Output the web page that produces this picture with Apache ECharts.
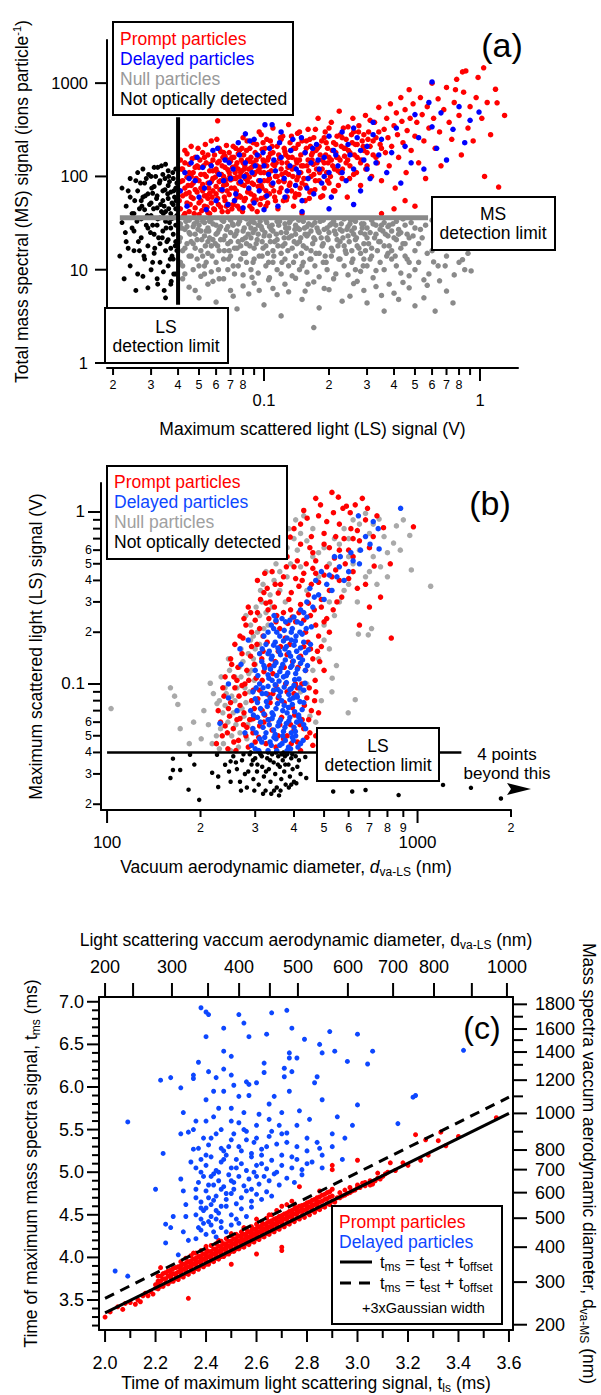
<!DOCTYPE html>
<html><head><meta charset="utf-8">
<script src="https://cdn.jsdelivr.net/npm/echarts@6.0.0/dist/echarts.min.js"></script>
<style>html,body{margin:0;padding:0;background:#fff}#chart{width:601px;height:1395px}</style>
</head><body><div id="chart"></div>
<script>
const FONT = "'Liberation Sans', Arial, Helvetica, sans-serif";
const RED = '#ff0000', BLUE_A = '#0000ff', BLUE_B = '#0d47ff', GRAY_A = '#8a8a8a', GRAY_B = '#a9a9a9', BLK = '#000000';

// ---------------- Panel (a): MS signal vs LS signal ----------------
const aUndetected = [[.0215,14],[.022,32],[.022,75],[.023,20],[.023,48],[.024,11],[.024,95],[.024,60],[.025,26],[.025,40],[.025,16],[.026,70],[.026,9],[.026,110],[.027,35],[.027,22],[.027,55],[.028,13],[.028,85],[.028,44],[.029,28],[.029,6.4],[.029,65],[.029,18],[.03,100],[.03,38],[.03,10],[.03,52],[.031,24],[.031,78],[.031,15],[.031,125],[.032,46],[.032,30],[.032,8],[.032,62],[.033,19],[.033,90],[.033,36],[.033,12],[.034,55],[.034,26],[.034,105],[.034,70],[.035,5],[.035,42],[.035,16],[.035,135],[.035,33],[.036,80],[.036,21],[.036,58],[.036,11],[.036,115],[.037,40],[.037,28],[.037,7],[.037,68],[.037,17],[.038,95],[.038,50],[.038,24],[.038,13],[.038,36],[.039,75],[.039,20],[.039,45],[.039,9],[.039,120],[.039,30],[.0385,60],[.0375,14],[.0365,88],[.0345,48],[.0325,22],[.0305,66],[.0285,30],[.0265,45],[.0245,28],[.0235,17],[.0225,8],[.0365,32],[.0375,52],[.0395,16],[.0395,85],[.0345,6],[.0335,130],[.0315,100],[.0275,120],[.0255,90],
[.0252,55],[.0258,33],[.0262,20],[.0268,85],[.0272,48],[.0278,14],[.0282,62],[.0288,38],[.0292,105],[.0298,25],[.0302,75],[.0308,45],[.0312,17],[.0318,58],[.0322,35],[.0328,85],[.0332,50],[.0338,22],[.0342,40],[.0348,95],[.0352,28],[.0358,65],[.0362,45],[.0368,13],[.0372,35],[.0378,110],[.0382,70],[.0388,18],[.0392,55],[.0394,38],[.0362,100],[.0355,20],[.0348,72],[.0335,42],[.0322,125],[.0305,30],[.0295,50],[.0285,95],[.0275,60],[.0265,16],[.0245,40],[.0235,70],[.0228,25],[.0382,9],[.0372,7.5],[.0342,9.5],[.0322,7],[.0305,12],[.0275,8.5],[.0255,6]];
const aNull = [[.041,12],[.041,22],[.041,31],[.043,9],[.043,17],[.043,27],[.045,14],[.045,25],[.045,34],[.047,10],[.047,19],[.047,29],[.049,13],[.049,21],[.049,33],[.051,8.5],[.051,16],[.051,26],[.053,11],[.053,23],[.053,32],[.055,15],[.055,20],[.055,28],[.057,9.5],[.057,18],[.057,35],[.06,12],[.06,24],[.06,30],[.062,8],[.062,16],[.062,27],[.065,13],[.065,21],[.065,33],[.068,10],[.068,19],[.068,29],[.07,14],[.07,25],[.07,34],[.073,9],[.073,17],[.073,23],[.076,11],[.076,20],[.076,31],[.08,15],[.08,26],[.08,8.8],[.083,12],[.083,19],[.083,35],[.087,10],[.087,22],[.087,28],[.09,13],[.09,17],[.09,32],[.094,9.2],[.094,24],[.094,30],[.098,14],[.098,20],[.098,27],[.102,11],[.102,18],[.102,34],[.106,8.2],[.106,23],[.106,29],[.11,12],[.11,16],[.11,26],[.115,10],[.115,21],[.115,33],[.12,15],[.12,25],[.12,9],[.125,13],[.125,19],[.125,31],[.13,11],[.13,22],[.13,28],[.135,8.6],[.135,17],[.135,35],[.14,14],[.14,24],[.14,30],[.146,10],[.146,20],[.146,27],[.152,12],[.152,18],[.152,33],[.158,9.4],[.158,23],[.158,29],[.165,13],[.165,16],[.165,26],[.172,11],[.172,21],[.172,32],[.18,15],[.18,25],[.18,8.4],[.188,12],[.188,19],[.188,34],[.196,10],[.196,22],[.196,28],[.205,14],[.205,17],[.205,31],[.215,9],[.215,24],[.215,30],[.225,13],[.225,20],[.225,27],[.235,11],[.235,18],[.235,35],[.245,8.8],[.245,23],[.245,29],[.255,12],[.255,16],[.255,26],[.265,10],[.265,21],[.265,33],[.28,15],[.28,25],[.28,9.6],[.29,13],[.29,19],[.29,31],[.3,11],[.3,22],[.3,28],[.315,14],[.315,17],[.315,34],[.33,9.8],[.33,24],[.33,30],[.345,12],[.345,20],[.345,27],[.36,10],[.36,18],[.36,32],[.375,15],[.375,23],[.375,29],[.39,13],[.39,16],[.39,26],[.41,11],[.41,21],[.41,33],[.43,9.2],[.43,25],[.43,17],[.45,14],[.45,19],[.45,30],[.47,12],[.47,22],[.47,8.6],[.5,10],[.5,28],[.5,16],
[.042,16],[.044,29],[.046,20],[.048,24],[.05,30],[.052,14],[.054,26],[.056,33],[.058,21],[.061,18],[.063,29],[.066,23],[.069,16],[.072,30],[.075,26],[.078,18],[.082,22],[.085,31],[.089,25],[.092,19],[.096,33],[.1,23],[.104,15],[.108,27],[.112,20],[.117,30],[.122,18],[.127,25],[.132,33],[.138,20],[.143,28],[.149,15],[.155,24],[.161,31],[.168,19],[.176,28],[.184,22],[.192,14],[.2,25],[.21,33],[.22,18],[.23,26],[.24,15],[.25,31],[.26,24],[.27,18],[.285,28],[.295,16],[.31,25],[.32,31],[.34,20],[.355,26],[.37,14],[.38,30],[.4,22],[.42,27],[.44,35],[.46,24],[.48,32],[.52,19],
[.0405,20],[.0415,28],[.042,11],[.0435,33],[.044,19],[.0455,24],[.046,14],[.0475,31],[.048,17],[.0495,27],[.05,11],[.0515,21],[.052,33],[.0535,18],[.054,12],[.0555,26],[.056,22],[.0575,14],[.058,31],[.0595,19],[.061,25],[.0615,10],[.063,21],[.064,34],[.0655,16],[.067,27],[.0685,13],[.07,20],[.0715,31],[.072,11],[.074,24],[.075,17],[.077,33],[.078,13],[.0795,21],[.081,28],[.082,15],[.0845,24],[.086,18],[.0875,33],[.089,12],[.091,27],[.093,21],[.095,14],[.097,29],[.099,17],[.101,25],[.103,32],[.105,12],[.107,20],[.109,30],[.111,14],[.114,24],[.116,18],[.118,33],[.121,12],[.124,22],[.126,28],[.129,16],[.131,32],[.134,23],[.137,12],[.139,27],[.142,19],[.145,34],[.148,22],[.15,11],[.154,28],[.157,17],[.16,24],[.163,13],[.167,30],[.17,22],[.174,15],[.178,26],[.182,33],[.186,18],[.19,27],[.194,12],[.198,21],[.202,30],[.208,16],[.212,26],[.218,21],[.222,13],[.228,31],[.232,22],[.238,16],[.242,27],[.248,20],[.252,34],[.258,13],[.262,28],[.268,22],[.275,17],[.283,31],[.288,11],[.293,24],[.305,19],[.31,13],[.325,22],[.335,16],[.35,30],[.365,24],[.38,18],[.395,31],[.405,14],[.42,24],[.44,19],[.46,13],[.49,23],[.53,27],[.57,15],[.63,21],[.69,11],[.74,19],[.79,23],[.86,18],
[.042,8],[.048,6],[.053,9],[.058,7.5],[.065,8],[.072,5.2],[.08,6.7],[.088,8.3],[.095,6],[.105,7.8],[.115,5.4],[.125,7],[.14,8.1],[.155,5.9],[.17,7.4],[.19,6.3],[.21,8],[.23,4.6],[.26,7.1],[.29,6],[.32,8.2],[.35,5.3],[.38,7],[.42,4.8],[.47,6.4],[.55,5],[.65,7.6],[.75,4.4],
[.045,6.5],[.05,5],[.055,7],[.06,4.5],[.07,6],[.075,3.8],[.085,5.5],[.09,7.2],[.1,4.2],[.11,6.3],[.12,3.2],[.13,5.8],[.15,4.8],[.16,7],[.18,3.9],[.2,6.1],[.17,2.4],[.25,5.2],[.27,7.5],[.3,4.4],[.33,6.6],[.36,3.6],[.4,5.6],[.44,7.3],[.5,4.1],[.57,6.8],[.62,3.6],[.7,5.9],
[.52,12],[.54,22],[.56,30],[.58,9],[.6,16],[.61,12.1],[.62,26],[.64,11],[.66,19],[.68,33],[.7,14],[.72,24],[.76,8.8],[.76,17],[.78,28],[.8,12],[.83,12.8],[.85,10],[.88,15],[.91,9.7],[.55,7.8],[.6,34],[.65,28]];
const aPrompt = [[.041,45],[.041,88],[.041,150],[.042,62],[.042,120],[.043,40],[.043,75],[.043,190],[.044,52],[.044,98],[.045,67],[.045,135],[.045,42],[.046,80],[.046,210],[.047,58],[.047,110],[.048,46],[.048,72],[.048,160],[.05,39],[.05,90],[.05,125],[.051,55],[.052,70],[.052,180],[.053,48],[.053,105],[.054,62],[.054,140],[.055,85],[.055,41],[.056,115],[.056,66],[.057,52],[.057,240],[.058,95],[.058,150],[.059,44],[.06,78],[.06,120],[.061,58],[.061,395],[.062,200],[.062,88],[.063,47],[.064,130],[.064,70],[.065,100],[.066,55],[.066,165],[.067,82],[.068,42],[.068,118],[.069,64],[.07,145],[.07,92],
[.072,50],[.072,210],[.073,75],[.074,130],[.075,60],[.075,98],[.076,175],[.077,45],[.078,110],[.079,82],[.08,260],[.08,140],[.081,55],[.082,95],[.083,190],[.084,68],[.085,120],[.086,48],[.087,160],[.088,85],[.089,230],[.09,62],[.09,105],[.092,150],[.093,42],[.094,78],[.095,300],[.096,125],[.097,58],[.098,195],[.1,90],[.1,140],[.102,70],[.103,250],[.104,52],[.105,110],[.107,175],[.108,82],[.11,135],[.11,330],[.112,60],[.113,100],[.115,210],[.116,45],[.118,155],[.12,75],[.12,120],[.122,270],[.124,88],[.125,185],[.127,56],[.128,140],[.13,105],[.13,360],[.132,230],[.134,70],[.135,160],[.137,48],[.138,125],[.14,200],[.142,92],[.143,290],[.145,64],[.146,150],[.148,110],[.15,40],[.15,240],
[.155,180],[.156,80],[.158,130],[.16,320],[.162,58],[.164,210],[.165,100],[.167,150],[.17,260],[.172,72],[.174,190],[.175,120],[.178,420],[.18,90],[.182,170],[.185,240],[.187,62],[.19,140],[.192,300],[.195,110],[.197,200],[.2,85],[.2,160],[.205,380],[.208,130],[.21,230],[.213,70],[.215,180],[.218,270],[.22,115],[.223,500],[.225,150],[.228,210],[.23,95],[.233,330],[.236,165],[.24,250],[.243,60],[.246,190],[.25,130],[.254,280],[.258,420],[.26,105],[.265,220],[.27,160],[.275,350],[.28,80],[.285,240],[.29,190],[.295,450],[.3,130],[.305,300],[.31,210],[.315,100],[.32,170],[.325,380],[.33,260],[.335,140],[.34,550],[.345,220],[.35,90],
[.046,100],[.049,130],[.051,75],[.053,160],[.055,58],[.058,70],[.061,140],[.063,90],[.065,180],[.067,48],[.069,110],[.071,160],[.074,95],[.077,62],[.079,200],[.081,120],[.084,88],[.086,145],[.089,55],[.091,180],[.094,115],[.097,80],[.099,230],[.101,60],[.104,150],[.106,95],[.109,210],[.111,70],[.114,140],[.117,88],[.119,260],[.121,105],[.123,55],[.126,170],[.129,125],[.131,80],[.133,190],[.136,100],[.139,60],[.141,150],[.144,220],[.147,75],[.149,130],[.153,95],[.157,240],[.161,115],[.163,68],[.166,170],[.169,135],[.173,90],[.177,200],[.181,110],[.186,150],[.19,75],[.194,230],[.198,140],[.203,100],[.207,190],[.212,120],[.217,160],[.221,80],[.226,280],[.231,120],[.238,200],[.244,150],[.249,95],[.256,230],[.262,170],[.268,110],[.274,300],[.282,150],[.288,210],[.296,120],[.303,250],
[.0405,55],[.0415,120],[.042,90],[.0425,38],[.043,140],[.0435,65],[.044,175],[.0445,80],[.045,110],[.0455,50],[.046,60],[.0465,155],[.047,85],[.0475,40],[.048,125],[.0485,95],[.049,68],[.0495,200],[.05,52],[.0505,150],[.051,105],[.0515,43],[.052,82],[.0525,130],[.053,62],[.0535,220],[.054,100],[.0545,47],[.055,170],[.0555,75],[.056,40],[.0565,135],[.057,88],[.0575,60],[.058,115],[.0585,45],[.059,170],[.0595,98],[.06,65],[.0605,250],[.061,110],[.0615,50],[.062,145],[.0625,72],[.063,185],[.0635,105],[.064,42],[.0645,160],[.065,80],[.0655,60],[.066,125],[.0665,92],[.067,215],[.0675,70],[.068,150],[.0685,50],[.069,180],[.0695,100],[.0705,75],[.071,45],[.0715,125],[.072,95],[.0725,160],[.073,55],[.0735,110],[.074,200],[.0745,70],[.075,140],[.0755,48],[.076,120],[.0765,85],[.077,190],[.0775,100],[.078,60],[.0785,150],[.079,115],[.0795,42],[.0805,170],[.081,80],[.0815,130],[.082,58],[.083,105],[.0835,240],[.084,150],[.085,72],[.0855,98],[.086,200],[.087,65],[.0875,125],[.088,45],[.089,140],[.0895,82],[.091,110],[.092,56],[.0925,220],[.093,130],[.0945,90],[.095,165],[.096,50],[.0965,110],[.097,280],[.098,75],[.099,150],[.1,110],[.101,200],[.102,48],[.103,130],[.104,90],[.105,160],[.106,65],[.107,240],[.108,115],[.109,80],[.11,180],[.112,130],[.113,55],[.115,100],[.117,170],[.118,68],[.12,250],[.121,140],[.123,90],[.124,200],[.126,110],[.128,60],[.13,160],[.132,85],[.134,270],[.135,120],[.137,200],[.14,65],[.142,140],[.144,100],[.146,300],[.148,170],[.15,85],[.152,130],[.155,55],[.157,200],[.16,150],[.163,250],[.165,70],[.168,180],[.17,105],[.173,320],[.176,140],[.18,210],[.183,60],[.186,120],[.19,260],[.193,170],[.197,90],[.2,330],[.205,150],[.21,70],[.215,220],[.22,160],[.225,110],[.23,260],[.235,200],[.24,140],[.245,340],[.25,180],[.26,300],[.27,220],[.28,140],[.29,280],[.3,180],[.31,400],[.32,240],[.33,160],[.34,300],[.35,200],
[.36,320],[.365,180],[.37,420],[.375,260],[.38,130],[.385,600],[.39,210],[.4,350],[.405,75],[.41,480],[.415,280],[.42,160],[.43,700],[.435,390],[.44,230],[.45,520],[.455,110],[.46,310],[.47,850],[.475,420],[.48,190],[.49,600],[.5,270],[.51,380],[.52,140],[.53,700],[.54,460],[.55,240],[.56,95],[.57,560],[.58,330],[.6,1000],[.61,420],[.62,200],[.64,680],[.65,300],[.66,130],[.68,520],[.7,900],[.72,380],[.74,250],[.76,620],[.77,850],[.78,1100],[.8,450],[.82,170],[.83,1320],[.84,800],[.86,1350],[.88,330],[.9,560],[.93,240],[.96,700],[.98,1150],[1.04,1460],[1.02,420],[1.05,100],[1.08,620],[1.12,280],[1.18,860],[1.2,615],[1.22,77],[1.3,450],[.4,45],[.45,55],[.5,48],[.35,40]];
const aDelayed = [[.041,70],[.043,110],[.044,48],[.046,140],[.048,90],[.05,60],[.052,125],[.054,44],[.056,85],[.058,190],[.06,55],[.062,105],[.064,72],[.066,150],[.068,50],[.07,95],[.072,120],[.074,65],[.076,230],[.078,88],[.08,46],[.082,140],[.082,286],[.085,75],[.088,110],[.09,52],[.093,170],[.096,90],[.1,130],[.101,358],[.103,62],[.106,200],[.109,358],[.11,85],[.113,115],[.116,48],[.12,160],[.124,95],[.128,70],[.132,130],[.136,250],[.14,80],[.145,110],[.15,55],[.155,180],[.16,95],[.165,140],[.17,65],[.175,220],[.18,120],[.185,85],[.19,160],[.2,110],[.205,60],[.21,190],[.22,130],[.23,300],[.24,90],[.25,170],[.26,120],[.27,260],[.28,70],[.29,150],[.3,210],[.31,95],[.32,380],[.33,140],[.35,250],[.37,110],[.39,180],[.41,330],[.43,85],[.45,210],[.48,140],[.5,460],[.52,260],[.55,120],[.58,620],[.6,1030],[.6,340],[.63,200],[.66,480],[.7,150],[.75,320],[.8,560],[.85,230],[.9,400],[.99,490],
[.045,95],[.049,160],[.053,75],[.057,130],[.061,200],[.065,90],[.069,140],[.073,55],[.077,170],[.081,100],[.086,240],[.091,130],[.095,70],[.099,180],[.105,105],[.111,150],[.118,230],[.125,60],[.133,190],[.141,120],[.149,260],[.158,75],[.168,200],[.178,150],[.19,100],[.2,270],[.215,170],[.23,110],[.245,220],[.26,330],[.28,190],[.3,120],[.32,280],[.34,170],[.2,45],[.15,42],[.1,44],[.26,50],[.12,300],[.09,250]];
const aMsLimit = [[0.0215,36],[0.575,36]];
const aLsLimit = [[0.04,4.2],[0.04,430]];
const aXMajor = [0.1, 1], aXMajorLab = ['0.1', '1'];
const aXMinor = [0.02,0.03,0.04,0.05,0.06,0.07,0.08,0.09,0.2,0.3,0.4,0.5,0.6,0.7,0.8,0.9];
const aXMinorLab = ['2','3','4','5','6','7','8','','2','3','4','5','6','7','8',''];
const aYMajor = [1, 10, 100, 1000], aYMajorLab = ['1','10','100','1000'];
const aX = [0.01875, 1.5], aY = [1, 2900];

// ---------------- Panel (b): LS signal vs diameter ----------------
const bUndetected = [[160,.0284],[163,.0368],[163,.0316],[172,.0316],[183,.0243],[191,.034],[198,.0212],[185,.0388],[218,.0305],[228,.029],[228,.0252],[226,.0388],[240,.0339],[247,.031],[250,.0355],[358,.0225],[407,.0265],[435,.0376],[438,.0284],[535,.0237],[616,.0237],[680,.0242],[869,.0226],[1208,.0259],[1486,.0249],[1856,.0216],
[255,.038],[262,.032],[268,.027],[272,.036],[278,.03],[282,.025],[288,.039],[292,.034],[296,.028],[300,.037],[304,.031],[308,.026],[312,.039],[316,.033],[320,.029],[324,.024],[328,.037],[332,.032],[336,.027],[340,.039],[344,.035],[348,.03],[352,.025],[356,.038],[360,.033],[364,.028],[368,.036],[372,.031],[376,.026],[380,.039],[384,.034],[388,.029],[392,.037],[396,.032],[400,.027],[405,.038],[410,.033],[415,.036],[420,.03],[260,.035],[275,.039],[285,.031],[295,.036],[305,.034],[315,.038],[325,.031],[335,.036],[345,.024],[355,.034],[365,.039],[375,.034],[385,.025],[395,.039],[270,.024],[298,.024],[318,.023],[338,.023],[362,.024],[374,.038],[392,.026],[250,.027],[330,.04],[350,.04],[310,.04],[290,.04],[370,.04]];
const bNull = [[103,.072],[160,.095],[169,.076],[172,.055],[184,.045],[201,.048],[215,.101],[226,.077],[165,.085],[190,.06],
[237,.045],[245,.06],[252,.05],[258,.08],[265,.043],[270,.11],[276,.065],[282,.048],[288,.09],[294,.055],[240,.075],[248,.12],[255,.068],[262,.095],[268,.052],[274,.135],[280,.078],[286,.115],[292,.062],[298,.105],[232,.055],[242,.088],[250,.041],[260,.058],[266,.125],[272,.072],[284,.058],[296,.14],[230,.08],[236,.068],
[300,.16],[305,.2],[310,.25],[315,.3],[320,.21],[300,.13],[290,.18],[310,.17],[325,.26],[335,.33],[345,.4],[330,.22],[318,.38],[350,.5],[340,.28],[360,.45],[370,.55],[380,.62],[390,.5],[400,.7],[410,.6],[420,.75],[440,.68],[460,.8],[480,.58],
[752,.91],[855,.83],[944,.73],[837,.66],[800,.58],[955,.46],[1102,.37],[645,.195],[694,.193],[711,.21],[598,.068],[630,.081],[531,.108],[548,.128],[700,.75],[650,.85],[600,.7],[560,.65],[620,.5],[680,.42],[720,.55],[760,.48],[640,.3],[580,.35],[540,.25],[500,.18],[480,.14],[520,.16],[460,.12],[440,.1],[420,.09],[500,.22],[560,.3],[470,.06],[450,.065],[490,.08],[530,.09],
[205,.07],[212,.058],[220,.088],[225,.05],[233,.11],[240,.095],[246,.14],[252,.085],[258,.11],[264,.07],[270,.16],[278,.095],[285,.15],[292,.12],[296,.19],[280,.25],[290,.22],[302,.28],[312,.35],[325,.45],[338,.55],[350,.62],[365,.7],[385,.8],[405,.9],[430,.95],[360,.35],[375,.3],[380,.42],[420,.48],[460,.55],[500,.62],[540,.7],[580,.8],[620,.9],[680,.98],[720,.85],[780,.72],[650,.6],[600,.55],[520,.5],[480,.42],[440,.35],[520,.3],[600,.38],[700,.45],[740,.38],[800,.42],[880,.6],[900,.9],[230,.042],[218,.045]];
const bPrompt = [[225,.045],[235,.05],[245,.042],[255,.055],[265,.047],[275,.058],[285,.043],[295,.052],[310,.057],[325,.045],[340,.054],[360,.058],[380,.05],[400,.054],[420,.041],[440,.049],[460,.044],[240,.057],[260,.041],[280,.05],[300,.046],[320,.06],[350,.043],[370,.048],[390,.058],[410,.046],[430,.055],[450,.052],
[228,.07],[238,.085],[248,.065],[258,.095],[268,.075],[278,.088],[288,.062],[298,.072],[310,.092],[322,.066],[335,.078],[350,.098],[365,.064],[380,.09],[395,.073],[410,.095],[425,.062],[440,.083],[455,.07],[470,.09],[250,.078],[262,.062],[272,.098],[292,.08],[316,.07],[342,.088],[372,.078],[402,.066],[432,.075],[480,.068],
[240,.11],[252,.13],[262,.105],[272,.15],[282,.12],[292,.165],[302,.108],[315,.14],[328,.175],[342,.115],[356,.155],[372,.125],[388,.17],[404,.1],[420,.145],[436,.12],[452,.16],[468,.105],[484,.135],[500,.12],[258,.17],[278,.1],[298,.13],[320,.118],[348,.135],[380,.148],[412,.125],[444,.175],[476,.155],
[268,.19],[280,.22],[292,.2],[305,.26],[318,.19],[332,.24],[346,.28],[360,.21],[375,.185],[390,.27],[405,.23],[420,.29],[436,.2],[452,.25],[470,.22],[490,.28],[510,.24],[535,.27],[285,.28],[300,.235],[325,.295],[352,.25],[382,.225],[415,.26],[445,.295],[480,.19],[520,.2],
[305,.4],[320,.34],[328,.36],[340,.45],[356,.338],[370,.42],[385,.31],[400,.48],[415,.37],[430,.44],[445,.33],[460,.47],[480,.39],[500,.43],[520,.35],[545,.46],[570,.32],[600,.41],[640,.36],[312,.31],[335,.3],[362,.38],[392,.34],[425,.4],[455,.38],[490,.31],[530,.42],[585,.5],[725,.485],[817,.5],
[389,.715],[360,.6],[380,.55],[400,.8],[420,.65],[441,.92],[460,.58],[487,1.1],[500,.75],[520,.62],[536,.99],[556,1.22],[560,.85],[580,.7],[607,.99],[620,.55],[640,.78],[664,1.2],[680,.9],[700,.62],[777,.81],[970,.82],[430,1.02],[455,.72],[470,1.2],[510,.88],[530,1.3],[590,1.08],[650,.68],[720,.72],[410,.52],[470,.52],[540,.54],[600,.6],
[823,.185],[700,.28],[650,.22],[760,.32],
[232,.06],[244,.052],[256,.046],[268,.063],[282,.056],[296,.063],[308,.049],[332,.062],[356,.05],[392,.045],[418,.058],[446,.062],[470,.05],
[236,.095],[246,.072],[256,.11],[266,.085],[276,.068],[286,.105],[296,.092],[306,.082],[316,.105],[330,.087],[356,.083],[376,.1],[400,.088],[424,.1],[448,.095],[466,.08],
[250,.14],[264,.125],[274,.185],[290,.145],[304,.17],[318,.155],[334,.128],[362,.165],[396,.135],[430,.165],[460,.14],[490,.165],
[276,.24],[290,.26],[310,.21],[330,.27],[350,.23],[370,.26],[395,.245],[430,.235],[465,.27],[500,.23],[550,.3],
[322,.44],[348,.38],[378,.48],[405,.41],[438,.5],[470,.44],[510,.48],[560,.4],[620,.45],[680,.38],
[420,.85],[450,.62],[480,.95],[500,.65],[545,.72],[575,1.05],[610,.8],[630,1.1],[690,1.05],[740,.95],[620,.7],[560,.6]];
const bDelayed = [[300,.042],[315,.046],[330,.041],[345,.049],[360,.044],[375,.047],[390,.042],[405,.05],[420,.045],[310,.048],[338,.044],[352,.041],[368,.05],[384,.043],[398,.047],
[295,.055],[312,.06],[325,.052],[340,.063],[355,.057],[370,.053],[385,.061],[400,.056],[415,.064],[430,.058],[305,.064],[333,.058],[348,.051],[362,.062],[378,.059],[392,.052],[408,.06],
[290,.07],[305,.078],[320,.067],[335,.083],[350,.072],[365,.08],[380,.068],[395,.076],[410,.084],[425,.071],[300,.082],[328,.074],[343,.066],[358,.085],[372,.075],[388,.081],[402,.069],[418,.079],
[295,.09],[310,.1],[325,.088],[340,.105],[355,.093],[370,.11],[385,.087],[400,.098],[415,.107],[430,.092],[318,.095],[332,.108],[348,.099],[362,.09],[378,.102],[392,.094],[408,.086],
[300,.12],[315,.135],[330,.113],[345,.128],[360,.118],[375,.138],[390,.125],[405,.115],[420,.132],[435,.12],[322,.124],[338,.14],[352,.112],[368,.13],[382,.116],[398,.136],
[310,.15],[325,.17],[340,.145],[355,.162],[370,.178],[385,.152],[400,.168],[415,.143],[430,.175],[445,.158],[333,.155],[348,.175],[362,.148],[378,.165],[392,.18],[408,.155],
[320,.19],[338,.22],[352,.2],[366,.24],[380,.185],[395,.21],[410,.23],[425,.195],[440,.245],[455,.215],[345,.25],[372,.205],[388,.235],[418,.2],
[420,.27],[440,.3],[460,.28],[480,.33],[500,.31],[450,.36],[470,.4],[510,.38],[530,.35],[550,.42],[490,.45],[560,.48],[580,.4],[600,.45],[620,.52],[540,.55],[650,.5],[430,.26],[465,.32],[520,.43],
[564,.55],[655,.6],[752,.61],[882,1.05],[645,.95],[747,.8],[703,.65],[610,.58],[680,.72],[720,.88],
[246,.1],[246,.083],[231,.059],[262,.07],[270,.13],[278,.052],[285,.18],[268,.16],
[292,.044],[308,.041],[322,.049],[335,.046],[350,.048],[366,.045],[380,.041],[395,.049],[412,.043],[428,.047],
[302,.052],[318,.056],[330,.062],[344,.054],[358,.06],[374,.056],[388,.064],[404,.053],[420,.061],[436,.055],
[296,.066],[312,.072],[326,.079],[340,.068],[354,.077],[368,.07],[384,.073],[398,.083],[414,.066],[430,.078],
[302,.095],[316,.088],[330,.097],[344,.092],[358,.104],[372,.096],[388,.093],[402,.106],[418,.095],[434,.101],
[306,.112],[320,.128],[336,.122],[350,.133],[364,.124],[378,.112],[394,.128],[410,.122],[426,.138],[442,.128],
[316,.16],[330,.15],[344,.168],[358,.155],[374,.16],[390,.145],[404,.178],[420,.162],[436,.152],[452,.17],
[330,.2],[344,.21],[360,.19],[376,.23],[392,.2],[406,.19],[422,.225],[438,.21],[350,.235],[400,.245]];
const bLsLimit = [[100,0.04],[1384,0.04]];
const bXMajor = [100, 1000], bXMajorLab = ['100','1000'];
const bXMinor = [200,300,400,500,600,700,800,900,2000], bXMinorLab = ['2','3','4','5','6','7','8','9','2'];
const bYMajor = [0.1, 1], bYMajorLab = ['0.1','1'];
const bYMinor = [0.02,0.03,0.04,0.05,0.06,0.07,0.08,0.09,0.2,0.3,0.4,0.5,0.6,0.7,0.8,0.9];
const bYMinorLab = ['2','3','4','5','6','','','','2','3','4','5','6','','',''];
const bX = [95.6, 2000], bY = [0.01851, 1.474];

// ---------------- Panel (c): t_ms vs t_ls ----------------
const cPrompt = [[2.0,3.30],[2.02,3.36],[2.05,3.42],[2.07,3.39],[2.08,3.46],[2.1,3.47],[2.12,3.45],[2.13,3.5],[2.14,3.48],[2.15,3.55],[2.16,3.58],[2.17,3.55],[2.18,3.6],[2.19,3.57],[2.2,3.64],[2.2,3.68],[2.21,3.7],[2.22,3.88],
[2.22,3.66],[2.22,3.72],[2.22,3.78],[2.24,3.70],[2.24,3.75],[2.24,3.82],[2.26,3.72],[2.26,3.77],[2.26,3.85],[2.26,3.8],[2.28,3.75],[2.28,3.81],[2.28,3.88],[2.28,3.79],
[2.3,3.78],[2.3,3.83],[2.3,3.9],[2.3,3.86],[2.3,3.95],[2.32,3.81],[2.32,3.85],[2.32,3.93],[2.32,3.88],[2.32,3.99],[2.33,3.52],[2.34,3.84],[2.34,3.89],[2.34,3.96],[2.34,3.92],[2.34,4.02],[2.36,3.87],[2.36,3.92],[2.36,3.99],[2.36,3.95],[2.36,4.05],
[2.38,3.9],[2.38,3.95],[2.38,4.02],[2.38,3.98],[2.38,4.08],[2.38,3.93],[2.4,3.92],[2.4,3.98],[2.4,4.05],[2.4,4.01],[2.4,4.1],[2.4,3.96],[2.42,3.96],[2.42,4.0],[2.42,4.07],[2.42,4.03],[2.42,4.14],[2.42,3.99],
[2.44,3.99],[2.44,4.03],[2.44,4.1],[2.44,4.06],[2.44,4.16],[2.44,4.02],[2.46,4.01],[2.46,4.06],[2.46,4.13],[2.46,4.09],[2.46,4.19],[2.46,4.04],[2.48,4.04],[2.48,4.09],[2.48,4.16],[2.48,4.12],[2.48,4.22],[2.48,4.07],
[2.5,4.07],[2.5,4.12],[2.5,4.19],[2.5,4.15],[2.5,4.25],[2.5,4.1],[2.5,3.92],[2.52,4.1],[2.52,4.15],[2.52,4.22],[2.52,4.18],[2.52,4.27],[2.52,4.13],[2.54,4.13],[2.54,4.18],[2.54,4.25],[2.54,4.21],[2.54,4.3],[2.54,4.16],
[2.56,4.16],[2.56,4.21],[2.56,4.28],[2.56,4.24],[2.56,4.33],[2.56,4.19],[2.58,4.19],[2.58,4.24],[2.58,4.31],[2.58,4.27],[2.58,4.36],[2.58,4.22],[2.6,4.22],[2.6,4.27],[2.6,4.34],[2.6,4.3],[2.6,4.39],[2.6,4.25],[2.6,4.04],
[2.62,4.25],[2.62,4.3],[2.62,4.37],[2.62,4.33],[2.62,4.42],[2.62,4.28],[2.64,4.28],[2.64,4.33],[2.64,4.4],[2.64,4.36],[2.64,4.46],[2.64,4.31],[2.66,4.31],[2.66,4.36],[2.66,4.43],[2.66,4.39],[2.66,4.5],[2.66,4.34],
[2.68,4.34],[2.68,4.39],[2.68,4.46],[2.68,4.42],[2.68,4.55],[2.68,4.37],[2.7,4.37],[2.7,4.42],[2.7,4.49],[2.7,4.45],[2.7,4.6],[2.7,4.4],[2.7,4.12],[2.7,4.08],
[2.72,4.4],[2.72,4.45],[2.72,4.52],[2.72,4.48],[2.72,4.62],[2.74,4.43],[2.74,4.48],[2.74,4.55],[2.74,4.51],[2.74,4.66],[2.76,4.46],[2.76,4.51],[2.76,4.58],[2.76,4.54],[2.77,4.83],
[2.78,4.49],[2.78,4.54],[2.78,4.61],[2.78,4.57],[2.8,4.52],[2.8,4.57],[2.8,4.64],[2.8,4.6],[2.82,4.55],[2.82,4.6],[2.82,4.67],[2.82,4.62],[2.84,4.57],[2.84,4.62],[2.84,4.7],[2.84,4.65],
[2.86,4.6],[2.86,4.66],[2.86,4.73],[2.88,4.63],[2.88,4.69],[2.88,4.76],[2.9,4.66],[2.9,4.72],[2.9,4.8],[2.9,5.03],[2.9,5.08],
[2.92,4.7],[2.93,4.76],[2.94,4.72],[2.95,4.79],[2.96,4.75],[2.97,4.82],[2.98,4.78],[3.0,4.85],[3.0,4.82],[3.0,5.14],[3.02,4.87],[3.03,4.84],[3.05,4.9],[3.06,4.86],[3.08,4.93],[3.08,4.99],[3.1,4.95],
[3.13,5.11],[3.15,5.02],[3.18,5.11],[3.2,5.08],[3.23,5.44],[3.25,5.14],[3.27,5.38],[3.28,5.2],[3.32,5.37],[3.33,5.47],[3.35,5.31],[3.4,5.42],[3.55,5.64],
[2.21,3.63],[2.21,3.72],[2.21,3.78],[2.23,3.66],[2.23,3.75],[2.23,3.81],[2.25,3.69],[2.25,3.78],[2.25,3.84],[2.27,3.72],[2.27,3.81],[2.27,3.87],[2.29,3.74],[2.29,3.83],[2.29,3.89],[2.31,3.77],[2.31,3.86],[2.31,3.92],[2.33,3.8],[2.33,3.89],[2.33,3.95],[2.35,3.83],[2.35,3.92],[2.35,3.98],[2.37,3.86],[2.37,3.95],[2.37,4.01],[2.39,3.89],[2.39,3.98],[2.39,4.04],
[2.41,3.92],[2.41,4.01],[2.41,4.07],[2.43,3.95],[2.43,4.04],[2.43,4.1],[2.45,3.98],[2.45,4.07],[2.45,4.13],[2.47,4.01],[2.47,4.1],[2.47,4.16],[2.49,4.04],[2.49,4.13],[2.49,4.19],[2.51,4.07],[2.51,4.16],[2.51,4.22],[2.53,4.1],[2.53,4.19],[2.53,4.25],[2.55,4.12],[2.55,4.21],[2.55,4.27],[2.57,4.15],[2.57,4.24],[2.57,4.3],[2.59,4.18],[2.59,4.27],[2.59,4.33],
[2.61,4.21],[2.61,4.3],[2.61,4.36],[2.63,4.24],[2.63,4.33],[2.63,4.39],[2.65,4.27],[2.65,4.36],[2.65,4.42],[2.67,4.3],[2.67,4.39],[2.67,4.45],[2.69,4.33],[2.69,4.42],[2.69,4.48],[2.71,4.36],[2.71,4.45],[2.71,4.51],[2.73,4.39],[2.73,4.48],[2.73,4.54],[2.75,4.42],[2.75,4.51],[2.75,4.57],[2.77,4.45],[2.77,4.54],[2.77,4.6],[2.79,4.47],[2.79,4.56],[2.79,4.62],
[2.81,4.5],[2.81,4.59],[2.81,4.65],[2.83,4.53],[2.83,4.62],[2.83,4.68],[2.85,4.56],[2.85,4.65],[2.85,4.71],[2.87,4.59],[2.87,4.68],[2.87,4.74],[2.89,4.62],[2.89,4.71],[2.89,4.77],
[2.35,4.05],[2.45,4.2],[2.55,4.35],[2.6,4.45],[2.65,4.5],[2.75,4.62],[2.85,4.78],[2.4,4.13],[2.5,4.28],
[2.91,4.65],[2.93,4.7],[2.95,4.73],[2.97,4.76],[2.99,4.79],[3.01,4.82],[3.03,4.88],[3.05,4.85],[3.07,4.9],[3.09,4.92],[3.11,4.98],[3.12,5.0]];
const cDelayed = [[2.04,3.84],[2.09,3.78],[2.2,4.8],[2.09,5.59],[2.23,5.22],[2.24,4.17],[2.24,4.39],[2.26,4.35],[2.27,4.48],[2.29,4.03],[2.31,4.3],[2.32,4.48],[2.33,4.2],[2.3,4.92],[2.31,4.78],[2.32,4.62],[2.3,5.45],[2.33,5.47],[2.35,5.27],[2.34,5.12],
[2.36,4.22],[2.38,4.32],[2.4,4.27],[2.42,4.38],[2.44,4.24],[2.46,4.35],[2.48,4.3],[2.5,4.38],[2.39,4.4],[2.43,4.3],
[2.36,4.5],[2.38,4.45],[2.4,4.58],[2.42,4.48],[2.44,4.55],[2.46,4.42],[2.48,4.6],[2.5,4.5],[2.52,4.45],[2.54,4.57],[2.56,4.48],[2.58,4.59],[2.41,4.42],[2.45,4.52],[2.53,4.4],
[2.36,4.7],[2.38,4.65],[2.4,4.78],[2.42,4.62],[2.44,4.72],[2.46,4.8],[2.48,4.68],[2.5,4.75],[2.52,4.63],[2.54,4.7],[2.56,4.78],[2.58,4.66],[2.6,4.74],[2.62,4.68],[2.64,4.77],[2.66,4.72],[2.43,4.67],[2.51,4.8],
[2.37,4.88],[2.39,4.95],[2.41,4.85],[2.43,4.98],[2.45,4.9],[2.47,4.83],[2.49,4.97],[2.51,4.88],[2.53,4.95],[2.55,4.84],[2.57,4.92],[2.59,5.0],[2.61,4.86],[2.63,4.95],[2.65,4.9],[2.67,4.98],[2.69,4.85],[2.72,4.93],[2.75,4.88],[2.78,4.97],
[2.36,5.05],[2.38,5.15],[2.4,5.08],[2.42,5.18],[2.44,5.02],[2.46,5.12],[2.48,5.2],[2.5,5.05],[2.52,5.15],[2.54,5.1],[2.56,5.02],[2.58,5.18],[2.6,5.08],[2.62,5.2],[2.64,5.04],[2.66,5.14],[2.7,5.08],[2.74,5.18],[2.78,5.03],[2.82,5.12],[2.86,5.05],
[2.37,5.28],[2.39,5.4],[2.41,5.32],[2.44,5.45],[2.47,5.25],[2.5,5.38],[2.53,5.3],[2.56,5.48],[2.59,5.35],[2.62,5.27],[2.65,5.42],[2.68,5.33],[2.72,5.46],[2.76,5.3],[2.8,5.4],[2.85,5.28],[2.9,5.45],[2.46,5.5],[2.58,5.22],
[2.31,5.7],[2.36,5.6],[2.4,5.85],[2.43,5.65],[2.47,5.95],[2.5,5.75],[2.53,5.58],[2.57,5.9],[2.61,5.68],[2.65,5.8],[2.69,5.55],[2.73,5.95],[2.77,5.72],[2.81,5.62],[2.86,5.85],[2.92,5.65],[3.0,5.79],[3.16,5.57],[3.22,5.88],[3.23,5.9],[2.98,5.55],[2.55,5.5],
[2.38,6.93],[2.4,6.88],[2.41,6.85],[2.53,6.85],[2.66,6.87],[2.72,6.9],[2.55,6.75],[2.57,6.59],[2.64,6.62],[2.4,6.59],[2.47,6.69],[2.74,6.69],[2.73,6.4],[2.37,6.29],[2.47,6.42],[2.5,6.36],[2.22,6.08],[2.26,6.11],[2.3,5.99],[2.35,6.14],[2.35,6.1],[2.41,6.18],[2.43,5.95],[2.44,6.11],[2.47,6.21],[2.5,6.14],[2.51,6.02],[2.53,5.89],[2.56,6.06],[2.57,6.03],[2.6,6.05],[2.63,6.28],[2.63,6.17],[2.67,5.89],[2.71,6.22],[2.73,6.34],[2.71,6.12],[2.74,6.18],[2.76,6.34],[2.79,6.56],[2.85,6.5],[2.86,6.4],[2.89,6.65],[2.91,6.42],[2.96,6.3],[3.0,6.62],[3.04,6.27],[3.06,6.42],[2.83,6.05],[2.84,6.12],[3.42,6.43],
[2.37,4.35],[2.39,4.55],[2.41,4.7],[2.43,4.85],[2.45,5.0],[2.47,5.15],[2.49,5.3],[2.51,5.45],[2.38,5.0],[2.4,5.2],[2.42,5.4],[2.44,4.45],[2.46,4.6],[2.48,4.75],[2.5,4.9],[2.52,5.05],[2.54,5.25],[2.56,5.38],[2.58,4.8],[2.6,4.95],[2.62,5.1],[2.64,5.3],[2.66,5.48],[2.68,5.0],[2.7,5.2],[2.72,5.35],[2.74,5.05],[2.76,5.15],[2.8,5.25],[2.84,5.35],[2.36,4.8],[2.38,4.58],[2.42,4.95],[2.46,5.28],[2.5,5.6],[2.55,5.7],[2.6,5.55],[2.65,5.62],[2.7,5.7],[2.45,5.75],[2.4,5.6],[2.35,5.5],[2.6,5.4],[2.7,5.45],[2.76,5.55],[2.8,5.1],[2.86,5.2],[2.9,5.3],[2.95,5.4],[2.94,5.15]];
const cFitLine = [[2.0,3.35],[3.6,5.69]];
const cFitLine3Sigma = [[2.0,3.52],[3.6,5.88]];
const cXMajor = [2.0,2.2,2.4,2.6,2.8,3.0,3.2,3.4,3.6], cXMajorLab = ['2.0','2.2','2.4','2.6','2.8','3.0','3.2','3.4','3.6'];
const cXMinor = [2.1,2.3,2.5,2.7,2.9,3.1,3.3,3.5];
const cYMajor = [3.5,4.0,4.5,5.0,5.5,6.0,6.5,7.0], cYMajorLab = ['3.5','4.0','4.5','5.0','5.5','6.0','6.5','7.0'];
const cYMinor = [3.2,3.3,3.4,3.6,3.7,3.8,3.9,4.1,4.2,4.3,4.4,4.6,4.7,4.8,4.9,5.1,5.2,5.3,5.4,5.6,5.7,5.8,5.9,6.1,6.2,6.3,6.4,6.6,6.7,6.8,6.9];
const cTopNm = [200,250,300,350,400,450,500,600,700,800,900,1000];
const cTopTls = [2.0,2.111,2.265,2.408,2.531,2.653,2.764,2.962,3.141,3.303,3.453,3.592];
const cTopLab = ['200','','300','','400','','500','600','700','800','','1000'];
const cRightNm = [200,300,400,500,600,700,800,900,1000,1100,1200,1300,1400,1500,1600,1700,1800];
const cRightTms = [3.21,3.71,4.12,4.46,4.76,5.03,5.26,5.475,5.69,5.89,6.08,6.26,6.41,6.55,6.68,6.825,6.97];
const cRightLab = ['200','300','400','500','600','700','800','','1000','','1200','','1400','','1600','','1800'];
const cX = [1.976, 3.616], cY = [3.148, 7.056];

// ---------------- helpers ----------------
function tickSeries(xi, yi, side, values, labels, anchor, o) {
  return {
    type: 'custom', xAxisIndex: xi, yAxisIndex: yi, clip: false, silent: true, z: 10,
    data: values.map(v => (side === 'bottom' || side === 'top') ? [v, anchor] : [anchor, v]),
    renderItem: function (params, api) {
      const cs = params.coordSys;
      const p = api.coord([api.value(0), api.value(1)]);
      const lab = labels ? labels[params.dataIndex] : '';
      const len = lab ? o.len : (o.lenUnl || o.len);
      const off = o.offset || 0;
      let sh, tx, ty, al;
      if (side === 'bottom') { const b = cs.y + cs.height + off; sh = {x1: p[0], y1: b, x2: p[0], y2: b + len}; tx = p[0]; ty = b + o.gap; al = 'center'; }
      else if (side === 'top') { const b = cs.y - off; sh = {x1: p[0], y1: b, x2: p[0], y2: b - len}; tx = p[0]; ty = b - o.gap; al = 'center'; }
      else if (side === 'left') { const b = cs.x - off; sh = {x1: b, y1: p[1], x2: b - len, y2: p[1]}; tx = b - o.gap; ty = p[1]; al = 'right'; }
      else { const b = cs.x + cs.width + off; sh = {x1: b, y1: p[1], x2: b + len, y2: p[1]}; tx = b + o.gap; ty = p[1]; al = 'left'; }
      const children = [{type: 'line', shape: sh, style: {stroke: '#000', lineWidth: 2}}];
      if (lab) children.push({type: 'text', style: {text: lab, x: tx, y: ty, align: al, verticalAlign: 'middle', fill: '#000', fontSize: o.size, fontFamily: FONT}});
      return {type: 'group', children: children};
    }
  };
}
function scatter(xi, data, color, size, z) {
  return {type: 'scatter', xAxisIndex: xi, yAxisIndex: xi, data: data, symbol: 'circle', symbolSize: size, itemStyle: {color: color, opacity: 1}, z: z || 2, silent: true, large: false};
}
function refLine(xi, data, color, width, type, z) {
  return {type: 'line', xAxisIndex: xi, yAxisIndex: xi, data: data, symbol: 'none', silent: true, z: z || 3, lineStyle: {color: color, width: width, type: type || 'solid'}};
}
const RICH = (fs) => ({
  sub: {fontFamily: FONT, fontSize: 12, color: '#000', verticalAlign: 'bottom', lineHeight: 12},
  sup: {fontFamily: FONT, fontSize: 11, color: '#000', verticalAlign: 'top', lineHeight: 11},
  it: {fontFamily: FONT, fontSize: fs, color: '#000', fontStyle: 'italic', lineHeight: 22}
});
function axisBase(extra) {
  return Object.assign({
    axisLine: {show: true, onZero: false, lineStyle: {color: '#000', width: 2}},
    axisTick: {show: false}, axisLabel: {show: false}, splitLine: {show: false},
    nameLocation: 'middle'
  }, extra);
}
function nts(fs, pad) {
  const s = {fontFamily: FONT, fontSize: fs, color: '#000', lineHeight: 22, rich: RICH(fs)};
  if (pad) s.padding = pad;
  return s;
}
function txt(x, y, text, color, size, align, extra) {
  return Object.assign({type: 'text', x: x, y: y, z: 101, silent: true,
    style: {text: text, fill: color || '#000', fontSize: size || 17.5, fontFamily: FONT, align: align || 'left', verticalAlign: 'middle'}}, extra || {});
}
function box(x, y, w, h) {
  return {type: 'rect', z: 100, silent: true, shape: {x: x, y: y, width: w, height: h}, style: {fill: '#fff', stroke: '#000', lineWidth: 2}};
}
const legendFormula = {text: 't{sub|ms} = t{sub|est} + t{sub|offset}', fill: '#000', fontSize: 16.5, fontFamily: FONT, align: 'left', verticalAlign: 'middle', lineHeight: 22, rich: RICH(16.5)};

const chart = echarts.init(document.getElementById('chart'), null, {renderer: 'svg'});
const option = {
  animation: false,
  backgroundColor: '#fff',
  grid: [
    {left: 107, top: 40, width: 411, height: 323, outerBoundsMode: 'none', containLabel: false},
    {left: 101, top: 483, width: 410, height: 327, outerBoundsMode: 'none', containLabel: false},
    {left: 99, top: 997, width: 414, height: 333, outerBoundsMode: 'none', containLabel: false}
  ],
  xAxis: [
    axisBase({gridIndex: 0, type: 'log', min: aX[0], max: aX[1], offset: 5, name: 'Maximum scattered light (LS) signal (V)', nameGap: 50, nameTextStyle: nts(17.5)}),
    axisBase({gridIndex: 1, type: 'log', min: bX[0], max: bX[1], name: 'Vacuum aerodynamic diameter, {it|d}{sub|va-LS} (nm)', nameGap: 46, nameTextStyle: nts(17.5, [0, 40, 0, 0])}),
    axisBase({gridIndex: 2, type: 'value', min: cX[0], max: cX[1], position: 'bottom', name: 'Time of maximum light scattering signal, t{sub|ls} (ms)', nameGap: 42, nameTextStyle: nts(17.5)}),
    axisBase({gridIndex: 2, type: 'value', min: cX[0], max: cX[1], position: 'top', name: 'Light scattering vaccum aerodynamic diameter, d{sub|va-LS} (nm)', nameGap: 46, nameTextStyle: nts(17.5)})
  ],
  yAxis: [
    axisBase({gridIndex: 0, type: 'log', min: aY[0], max: aY[1], name: 'Total mass spectral (MS) signal (ions particle{sup|-1})', nameGap: 74, nameRotate: 90, nameTextStyle: nts(17.5)}),
    axisBase({gridIndex: 1, type: 'log', min: bY[0], max: bY[1], name: 'Maximum scattered light (LS) signal (V)', nameGap: 54, nameRotate: 90, nameTextStyle: nts(17.5)}),
    axisBase({gridIndex: 2, type: 'value', min: cY[0], max: cY[1], position: 'left', name: 'Time of maximum mass spectra signal, t{sub|ms} (ms)', nameGap: 57, nameRotate: 90, nameTextStyle: nts(17.5)}),
    axisBase({gridIndex: 2, type: 'value', min: cY[0], max: cY[1], position: 'right', name: 'Mass spectra vaccum aerodynamic diameter, d{sub|va-MS} (nm)', nameGap: 65, nameRotate: -90, nameTextStyle: nts(17.5)})
  ],
  series: [
    // (a)
    scatter(0, aNull, GRAY_A, 5.5), scatter(0, aUndetected, BLK, 5), scatter(0, aPrompt, RED, 5.5), scatter(0, aDelayed, BLUE_A, 5.5),
    refLine(0, aMsLimit, '#8a8a8a', 5), refLine(0, aLsLimit, BLK, 4),
    tickSeries(0, 0, 'bottom', aXMinor, aXMinorLab, aY[0], {len: 7, gap: 17, size: 12.5, offset: 5}),
    tickSeries(0, 0, 'bottom', aXMajor, aXMajorLab, aY[0], {len: 13, gap: 32, size: 16.5, offset: 5}),
    tickSeries(0, 0, 'left', aYMajor, aYMajorLab, aX[0], {len: 12, gap: 19, size: 16.5}),
    // (b)
    scatter(1, bNull, GRAY_B, 5.5), scatter(1, bUndetected, BLK, 4.5), scatter(1, bPrompt, RED, 5.5), scatter(1, bDelayed, BLUE_B, 5.5),
    refLine(1, bLsLimit, BLK, 2.5),
    tickSeries(1, 1, 'bottom', bXMinor, bXMinorLab, bY[0], {len: 7, gap: 18, size: 12.5}),
    tickSeries(1, 1, 'bottom', bXMajor, bXMajorLab, bY[0], {len: 13, gap: 32, size: 17}),
    tickSeries(1, 1, 'left', bYMinor, bYMinorLab, bX[0], {len: 8, gap: 9, size: 12.5}),
    tickSeries(1, 1, 'left', bYMajor, bYMajorLab, bX[0], {len: 13, gap: 16, size: 17}),
    // (c)
    scatter(2, cPrompt, RED, 5), scatter(2, cDelayed, BLUE_B, 5),
    refLine(2, cFitLine, BLK, 3, 'solid', 4), refLine(2, cFitLine3Sigma, BLK, 3, [10, 7], 4),
    tickSeries(2, 2, 'bottom', cXMajor, cXMajorLab, cY[0], {len: 12, gap: 33, size: 18}),
    tickSeries(2, 2, 'bottom', cXMinor, null, cY[0], {len: 8, gap: 33, size: 18}),
    tickSeries(2, 2, 'left', cYMajor, cYMajorLab, cX[0], {len: 12, gap: 15, size: 18}),
    tickSeries(2, 2, 'left', cYMinor, null, cX[0], {len: 7, gap: 15, size: 18}),
    tickSeries(2, 2, 'top', cTopTls, cTopLab, cY[1], {len: 14, gap: 30, size: 18}),
    tickSeries(2, 2, 'right', cRightTms, cRightLab, cX[1], {len: 14, lenUnl: 10, gap: 22, size: 18})
  ],
  graphic: [
    // (a) legend and annotations
    box(113, 22, 180, 93),
    txt(120, 39, 'Prompt particles', RED), txt(120, 59, 'Delayed particles', BLUE_A), txt(120, 79, 'Null particles', '#999999'), txt(120, 99, 'Not optically detected', BLK),
    txt(502, 45, '(a)', BLK, 34, 'center'),
    box(432, 197, 123, 53), txt(493, 214, 'MS', BLK, 17.5, 'center'), txt(493, 233, 'detection limit', BLK, 17.5, 'center'),
    box(105, 308, 123, 55), txt(166, 327, 'LS', BLK, 17.5, 'center'), txt(166, 346, 'detection limit', BLK, 17.5, 'center'),
    // (b)
    box(107, 466, 180, 93),
    txt(114, 482, 'Prompt particles', RED), txt(114, 502, 'Delayed particles', BLUE_B), txt(114, 522, 'Null particles', '#a0a0a0'), txt(114, 542, 'Not optically detected', BLK),
    txt(490, 503, '(b)', BLK, 34, 'center'),
    box(317, 728, 122, 53), txt(378, 746, 'LS', BLK, 17.5, 'center'), txt(378, 765, 'detection limit', BLK, 17.5, 'center'),
    txt(507, 754, '4 points', BLK, 17, 'center'), txt(507, 773, 'beyond this', BLK, 17, 'center'),
    {type: 'polygon', z: 101, silent: true, shape: {points: [[507, 783], [531, 789], [507, 795], [511, 789]]}, style: {fill: '#000'}},
    // (c)
    txt(482, 1028, '(c)', BLK, 32, 'center'),
    box(332, 1206, 170, 118),
    txt(339, 1222, 'Prompt particles', RED, 17.5), txt(339, 1242, 'Delayed particles', BLUE_B, 17.5),
    {type: 'line', z: 101, silent: true, shape: {x1: 340, y1: 1262, x2: 372, y2: 1262}, style: {stroke: '#000', lineWidth: 3}},
    {type: 'line', z: 101, silent: true, shape: {x1: 340, y1: 1283, x2: 372, y2: 1283}, style: {stroke: '#000', lineWidth: 3, lineDash: [11, 8]}},
    {type: 'text', x: 380, y: 1262, z: 101, silent: true, style: Object.assign({}, legendFormula)},
    {type: 'text', x: 380, y: 1283, z: 101, silent: true, style: Object.assign({}, legendFormula)},
    txt(362, 1308, '+3xGaussian width', BLK, 14.5)
  ]
};
chart.setOption(option);
</script></body></html>
